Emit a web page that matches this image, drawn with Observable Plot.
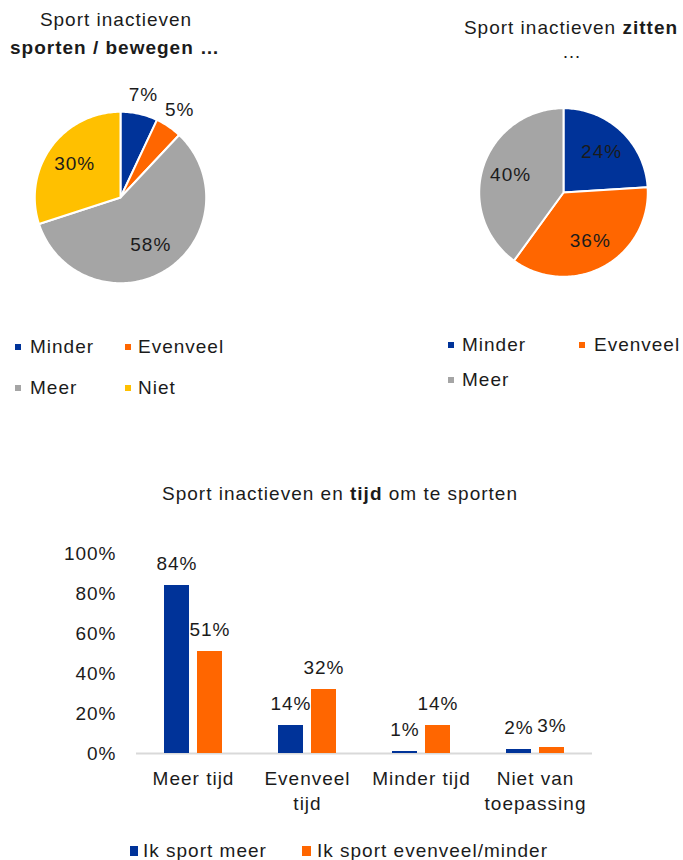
<!DOCTYPE html>
<html><head><meta charset="utf-8">
<script src="https://cdn.jsdelivr.net/npm/d3@7"></script>
<script src="https://cdn.jsdelivr.net/npm/@observablehq/plot@0.6"></script>
<style>
body{margin:0;background:#fff;}
#root{position:relative;width:683px;height:860px;overflow:hidden;font-family:"Liberation Sans",Arial,sans-serif;color:#1b1b1b;letter-spacing:1px;font-size:19px;}
.abs{position:absolute;white-space:nowrap;line-height:22px;}
.sw{position:absolute;}
.plotbox{position:absolute;}
</style></head><body><div id="root"></div>
<script>
// ---- data ----
const pieKeys = ["Minder", "Evenveel", "Meer", "Niet"];
const pieColors = ["#003399", "#FF6600", "#A5A5A5", "#FFC000"];
const pie1Keys = ["Minder", "Evenveel", "Meer", "Niet"];
const pie1Values = [7, 5, 58, 30];
const pie2Keys = ["Minder", "Evenveel", "Meer"];
const pie2Values = [24, 36, 40];
const barCategories = ["Meer tijd", "Evenveel tijd", "Minder tijd", "Niet van toepassing"];
const barCategoryLabels = ["Meer tijd", "Evenveel\ntijd", "Minder tijd", "Niet van\ntoepassing"];
const barSeries = ["Ik sport meer", "Ik sport evenveel/minder"];
const barColors = ["#003399", "#FF6600"];
const barMeer = [84, 14, 1, 2];
const barEvenveel = [51, 32, 14, 3];
const yTicks = [0, 20, 40, 60, 80, 100];

const root = document.getElementById("root");
const TEXT = "#1b1b1b";

function addText(html, x, y, anchor = "start", extra = {}) {
  const d = document.createElement("div");
  d.className = "abs";
  d.innerHTML = html;
  d.style.left = x + "px";
  d.style.top = (y - 11) + "px";
  if (anchor === "middle") d.style.transform = "translateX(-50%)";
  Object.assign(d.style, extra);
  root.appendChild(d);
}
function addSwatch(color, x, y, w, h) {
  const s = document.createElement("div");
  s.className = "sw";
  Object.assign(s.style, {left: x + "px", top: y + "px", width: w + "px", height: h + "px", background: color});
  root.appendChild(s);
}
function place(el, left, top) {
  const box = document.createElement("div");
  box.className = "plotbox";
  box.style.left = left + "px";
  box.style.top = top + "px";
  box.appendChild(el);
  root.appendChild(box);
}

function pieChart(keys, values, size) {
  const arcs = d3.pie().sort(null).value(d => d.value)(keys.map((k, i) => ({key: k, value: values[i]})));
  const pts = [];
  for (const a of arcs) {
    const n = Math.max(2, Math.ceil((a.endAngle - a.startAngle) / 0.02));
    pts.push({key: a.data.key, x: 0, y: 0});
    for (let i = 0; i <= n; i++) {
      const t = a.startAngle + (a.endAngle - a.startAngle) * i / n;
      pts.push({key: a.data.key, x: Math.sin(t), y: Math.cos(t)});
    }
    pts.push({key: a.data.key, x: 0, y: 0});
  }
  const labels = arcs.map(a => {
    const m = (a.startAngle + a.endAngle) / 2;
    const r = a.data.value < 10 ? 1.23 : 0.66;
    return {x: r * Math.sin(m), y: r * Math.cos(m), text: a.data.value + "%"};
  });
  return Plot.plot({
    width: size, height: size, margin: 0,
    x: {domain: [-1.4, 1.4], axis: null},
    y: {domain: [-1.4, 1.4], axis: null},
    color: {domain: pieKeys, range: pieColors},
    style: {fontFamily: '"Liberation Sans", Arial, sans-serif', fontSize: "19px", letterSpacing: "1px", color: TEXT, background: "transparent", overflow: "visible"},
    marks: [
      Plot.line(pts, {x: "x", y: "y", z: "key", fill: "key", stroke: "white", strokeWidth: 2, strokeLinejoin: "round"}),
      Plot.text(labels, {x: "x", y: "y", text: "text", fill: TEXT, fontSize: 19})
    ]
  });
}

// ---- pie 1 ----
addText("Sport inactieven", 116, 20, "middle");
addText("<b>sporten / bewegen …</b>", 115, 48, "middle");
place(pieChart(pie1Keys, pie1Values, 240), 0, 77);
// legend 1
addSwatch(pieColors[0], 15, 344, 6, 6); addText("Minder", 30, 347);
addSwatch(pieColors[1], 125, 344, 6, 6); addText("Evenveel", 138, 347);
addSwatch(pieColors[2], 15, 385, 6, 6); addText("Meer", 30, 388);
addSwatch(pieColors[3], 125, 385, 6, 6); addText("Niet", 138, 388);

// ---- pie 2 ----
addText("Sport inactieven <b>zitten</b>", 571, 28, "middle");
addText("…", 572, 52, "middle");
place(pieChart(pie2Keys, pie2Values, 236), 445, 74);
addSwatch(pieColors[0], 448, 342, 6, 6); addText("Minder", 462, 345);
addSwatch(pieColors[1], 579, 342, 6, 6); addText("Evenveel", 594, 345);
addSwatch(pieColors[2], 448, 377, 6, 6); addText("Meer", 462, 380);

// ---- bar chart ----
addText("Sport inactieven en <b>tijd</b> om te sporten", 340, 494, "middle");
const barData = [];
barCategories.forEach((c, i) => {
  barData.push({cat: c, series: barSeries[0], value: barMeer[i]});
  barData.push({cat: c, series: barSeries[1], value: barEvenveel[i]});
});
const bar = Plot.plot({
  width: 683, height: 293,
  marginTop: 33, marginBottom: 60, marginLeft: 135, marginRight: 90,
  fx: {domain: barCategories, padding: 0, axis: null},
  x: {domain: barSeries, paddingInner: 0.235, paddingOuter: 0.81, axis: null},
  y: {domain: [0, 100], axis: null},
  color: {domain: barSeries, range: barColors},
  style: {fontFamily: '"Liberation Sans", Arial, sans-serif', fontSize: "19px", letterSpacing: "1px", color: TEXT, background: "transparent", overflow: "visible"},
  marks: [
    Plot.ruleY([0], {stroke: "#d9d9d9", strokeWidth: 2}),
    Plot.barY(barData, {fx: "cat", x: "series", y: "value", fill: "series"}),
    Plot.text(barData, {fx: "cat", x: "series", y: "value", text: d => d.value + "%", dy: -22, fill: TEXT, fontSize: 19}),
    Plot.axisY({ticks: yTicks, tickFormat: d => d + "%", tickSize: 0, tickPadding: 20, label: null, fontSize: 19}),
    Plot.text(barCategories, {fx: d => d, frameAnchor: "bottom", lineAnchor: "top", dy: 14, text: (d, i) => barCategoryLabels[i], lineHeight: 1.3, fill: TEXT, fontSize: 19})
  ]
});
place(bar, 0, 520);

// bottom legend
addSwatch(barColors[0], 130, 846, 8, 10); addText("Ik sport meer", 143, 851);
addSwatch(barColors[1], 302, 846, 9, 10); addText("Ik sport evenveel/minder", 317, 851);
</script></body></html>
